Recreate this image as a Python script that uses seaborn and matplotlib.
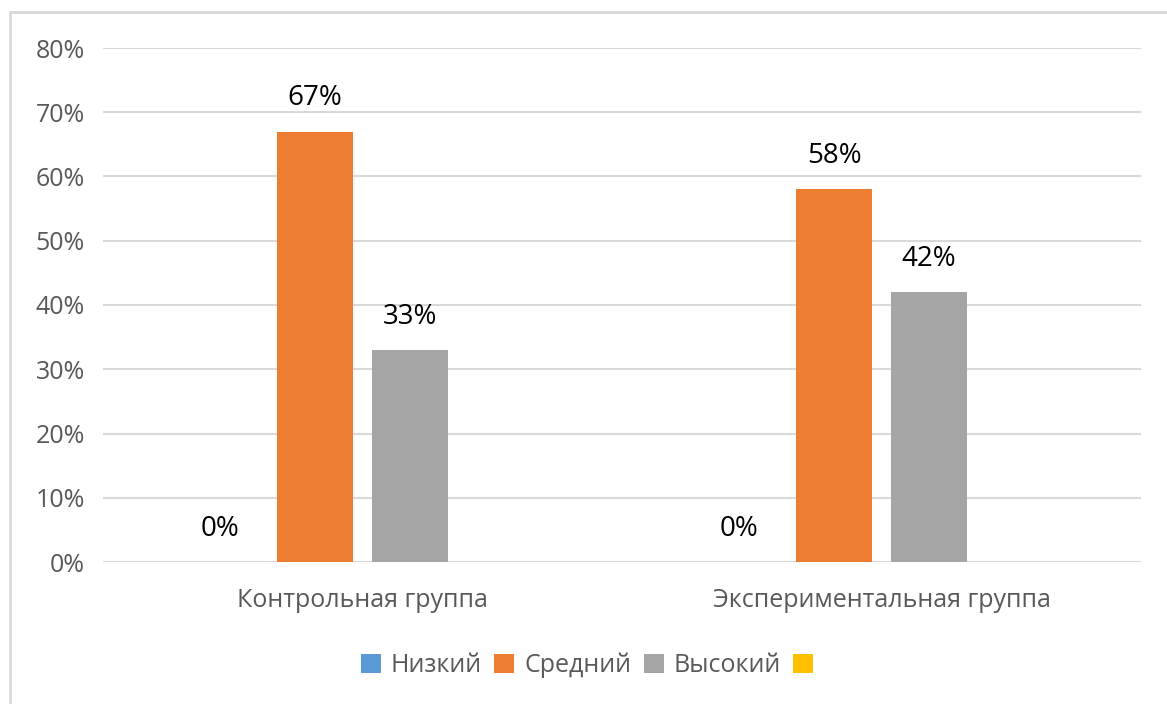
import numpy as np
import pandas as pd
import seaborn as sns
import matplotlib.pyplot as plt
from matplotlib.patches import Patch, Rectangle
from matplotlib.ticker import PercentFormatter

# данные диаграммы
groups = ['Контрольная группа', 'Экспериментальная группа']
levels = ['Низкий', 'Средний', 'Высокий', 'Ряд 4']
legend_labels = ['Низкий', 'Средний', 'Высокий', '']
low = [0, 0]
mid = [67, 58]
high = [33, 42]
extra = [np.nan, np.nan]
yticks = [0, 10, 20, 30, 40, 50, 60, 70, 80]

colors = ['#5B9BD5', '#ED7D31', '#A5A5A5', '#FFC000']

df = pd.DataFrame({
    'Группа': groups * 4,
    'Уровень': [lvl for lvl in levels for _ in groups],
    'Значение': low + mid + high + extra,
})

sns.set_style('white')
plt.rcParams['font.family'] = ['Open Sans', 'DejaVu Sans']

fig = plt.figure(figsize=(11.67, 7.04), dpi=100)
ax = fig.add_axes([103 / 1167, 1 - 562 / 704, (1141 - 103) / 1167, (562 - 48) / 704])

sns.barplot(data=df, x='Группа', y='Значение', hue='Уровень', order=groups,
            hue_order=levels, palette=colors, saturation=1, width=0.732, gap=0.21,
            errorbar=None, legend=False, linewidth=0, ax=ax)

for cont in ax.containers:
    ax.bar_label(cont, fmt=lambda v: f'{v:.0f}%', padding=14, fontsize=20, color='#000000')

ax.set_ylim(0, 80)
ax.set_yticks(yticks)
ax.yaxis.set_major_formatter(PercentFormatter(100, decimals=0))
ax.set_xlim(-0.5, 1.5)
ax.grid(axis='y', color='#D9D9D9', linewidth=1.5)
ax.set_axisbelow(True)
for s in ax.spines.values():
    s.set_visible(False)
ax.tick_params(axis='y', length=0, pad=13, labelsize=18, labelcolor='#595959')
ax.tick_params(axis='x', length=0, pad=19, labelsize=18, labelcolor='#595959')
ax.set_xlabel('')
ax.set_ylabel('')

handles = [Patch(facecolor=c, edgecolor='none') for c in colors]
fig.legend(handles, legend_labels, loc='center', bbox_to_anchor=(592 / 1167, 1 - 665 / 704),
           ncol=4, frameon=False, fontsize=18, labelcolor='#595959',
           handlelength=0.8, handleheight=0.8, handletextpad=0.4, columnspacing=0.5)

# рамка области диаграммы
fig.add_artist(Rectangle((10 / 1167, -0.5), 2, 0.5 + 1 - 12 / 704, transform=fig.transFigure,
                         fill=False, edgecolor='#D9D9D9', linewidth=2))

fig.savefig('out.png', dpi=100)
